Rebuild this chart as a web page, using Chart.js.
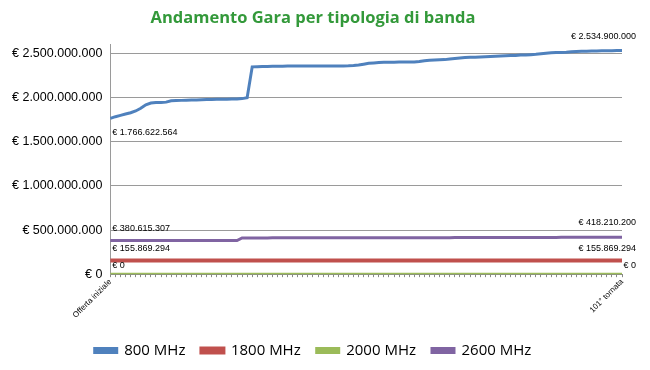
<!DOCTYPE html>
<html><head><meta charset="utf-8">
<script src="https://cdn.jsdelivr.net/npm/chart.js@4"></script>
<style>html,body{margin:0;padding:0;background:#fff}#c{width:650px;height:370px}</style>
</head><body><div id="c"><canvas id="cv" width="650" height="370"></canvas></div>
<script>
const titleText = 'Andamento Gara per tipologia di banda';
const seriesNames = ['800 MHz', '1800 MHz', '2000 MHz', '2600 MHz'];
const firstLabel = 'Offerta iniziale';
const lastLabel = '101° tornata';
const yTicks = [0, 500000000, 1000000000, 1500000000, 2000000000, 2500000000];

const mhz800 = [
  1766622564, 1785000000, 1800000000, 1815000000, 1830000000, 1850000000, 1880000000, 1920000000,
  1940000000, 1945000000, 1945000000, 1950000000, 1965000000, 1968000000, 1970000000, 1972000000,
  1974000000, 1975000000, 1977000000, 1980000000, 1981000000, 1982000000, 1983000000, 1984000000,
  1985000000, 1986000000, 1990000000, 2000000000, 2350000000, 2352000000, 2354000000, 2355000000,
  2356000000, 2357000000, 2358000000, 2359000000, 2360000000, 2360000000, 2360000000, 2360000000,
  2360000000, 2360000000, 2360000000, 2360000000, 2360000000, 2360000000, 2361000000, 2362000000,
  2365000000, 2370000000, 2380000000, 2390000000, 2395000000, 2400000000, 2401000000, 2402000000,
  2403000000, 2404000000, 2405000000, 2405000000, 2406000000, 2410000000, 2420000000, 2425000000,
  2428000000, 2430000000, 2432000000, 2440000000, 2445000000, 2450000000, 2455000000, 2458000000,
  2460000000, 2462000000, 2465000000, 2468000000, 2470000000, 2472000000, 2475000000, 2478000000,
  2480000000, 2483000000, 2485000000, 2488000000, 2492000000, 2498000000, 2505000000, 2510000000,
  2512000000, 2514000000, 2516000000, 2520000000, 2523000000, 2526000000, 2528000000, 2530000000,
  2531000000, 2532000000, 2533000000, 2533000000, 2534000000, 2534900000
];
const mhz1800 = new Array(102).fill(155869294);
const mhz2000 = new Array(102).fill(0);
const mhz2600 = [
  380615307, 380615307, 380615307, 380615307, 380615307, 380615307, 380615307, 380615307,
  380615307, 380615307, 380615307, 380615307, 381000000, 381000000, 381000000, 381000000,
  381000000, 381000000, 381000000, 381000000, 381000000, 381000000, 381000000, 381000000,
  381000000, 381000000, 410000000, 411000000, 411000000, 411000000, 411000000, 411000000,
  411500000, 411500000, 411500000, 411500000, 412000000, 412000000, 412000000, 412000000,
  412000000, 412000000, 412000000, 412000000, 412000000, 412000000, 412000000, 412000000,
  412000000, 412000000, 412000000, 412000000, 412000000, 412000000, 412000000, 412000000,
  412000000, 412000000, 412000000, 412000000, 412000000, 412000000, 412000000, 412000000,
  412000000, 412000000, 412000000, 412000000, 415000000, 415000000, 415000000, 415000000,
  415000000, 415000000, 415000000, 415000000, 415000000, 415000000, 415000000, 415000000,
  415000000, 415000000, 416000000, 416000000, 416000000, 416000000, 416000000, 416000000,
  416000000, 417000000, 417000000, 417000000, 417000000, 417000000, 417000000, 417000000,
  418000000, 418000000, 418000000, 418000000, 418210200, 418210200
];

const categories = mhz800.map((_, i) => i === 0 ? firstLabel : (i + 'ª tornata'));
categories[categories.length - 1] = lastLabel;

function euro(v) {
  return '€ ' + String(Math.round(v)).replace(/\B(?=(\d{3})+(?!\d))/g, '.');
}

const colors = ['#4F81BD', '#C0504D', '#9BBB59', '#8064A2'];
const widths = [3, 4, 3, 3];
const allSeries = [mhz800, mhz1800, mhz2000, mhz2600];

const pointLabels = [
  {ds: 0, idx: 0, align: 'left', dy: 14},
  {ds: 0, idx: 101, align: 'right', dy: -14},
  {ds: 3, idx: 0, align: 'left', dy: -12},
  {ds: 3, idx: 101, align: 'right', dy: -15},
  {ds: 1, idx: 0, align: 'left', dy: -12},
  {ds: 1, idx: 101, align: 'right', dy: -12},
  {ds: 2, idx: 0, align: 'left', dy: -9},
  {ds: 2, idx: 101, align: 'right', dy: -9}
];

const labelPlugin = {
  id: 'ptlabels',
  afterDatasetsDraw(chart) {
    const ctx = chart.ctx;
    const xs = chart.scales.x, ys = chart.scales.y;
    ctx.save();
    ctx.font = '9px "Liberation Sans", Arial, sans-serif';
    ctx.fillStyle = '#000';
    ctx.textBaseline = 'middle';
    pointLabels.forEach(p => {
      const v = allSeries[p.ds][p.idx];
      const x = xs.getPixelForValue(p.idx);
      const y = ys.getPixelForValue(v);
      ctx.textAlign = p.align;
      const tx = p.align === 'left' ? x + 2 : x + 14;
      ctx.fillText(euro(v), tx, y + p.dy);
    });
    ctx.restore();
  }
};

new Chart(document.getElementById('cv'), {
  type: 'line',
  data: {
    labels: categories,
    datasets: allSeries.map((d, i) => ({
      label: seriesNames[i],
      data: d,
      borderColor: colors[i],
      backgroundColor: colors[i],
      borderWidth: widths[i],
      pointRadius: 0,
      tension: 0,
      fill: false
    }))
  },
  options: {
    responsive: false,
    animation: false,
    layout: {padding: {left: 4, right: 28, top: 2, bottom: 2}},
    plugins: {
      title: {
        display: true, text: titleText, color: '#33993A',
        font: {family: '"Open Sans", "Liberation Sans", sans-serif', size: 16.5, weight: 'bold'},
        padding: {top: 6, bottom: 17}
      },
      legend: {
        position: 'bottom',
        labels: {
          boxWidth: 22, boxHeight: 4, padding: 16, color: '#000',
          font: {family: '"Open Sans", "Liberation Sans", sans-serif', size: 15}
        }
      },
      tooltip: {enabled: false}
    },
    scales: {
      x: {
        afterFit: s => { s.height += 7; },
        grid: {display: true, drawOnChartArea: false, drawTicks: true, tickLength: 3, color: '#888'},
        border: {color: '#888'},
        ticks: {
          autoSkip: false, maxRotation: 45, minRotation: 45, color: '#000',
          font: {family: '"Liberation Sans", sans-serif', size: 8},
          padding: 0,
          callback: function(v, i) { return (i === 0 || i === categories.length - 1) ? categories[i] : ''; }
        }
      },
      y: {
        min: 0, max: 2600000000,
        afterBuildTicks: axis => { axis.ticks = yTicks.map(v => ({value: v})); },
        grid: {color: '#9A9A9A', drawTicks: false},
        border: {color: '#9A9A9A'},
        ticks: {
          color: '#000', padding: 8,
          font: {family: '"Liberation Sans", sans-serif', size: 12.5},
          callback: v => euro(v)
        }
      }
    }
  },
  plugins: [labelPlugin]
});
</script>
</body></html>
